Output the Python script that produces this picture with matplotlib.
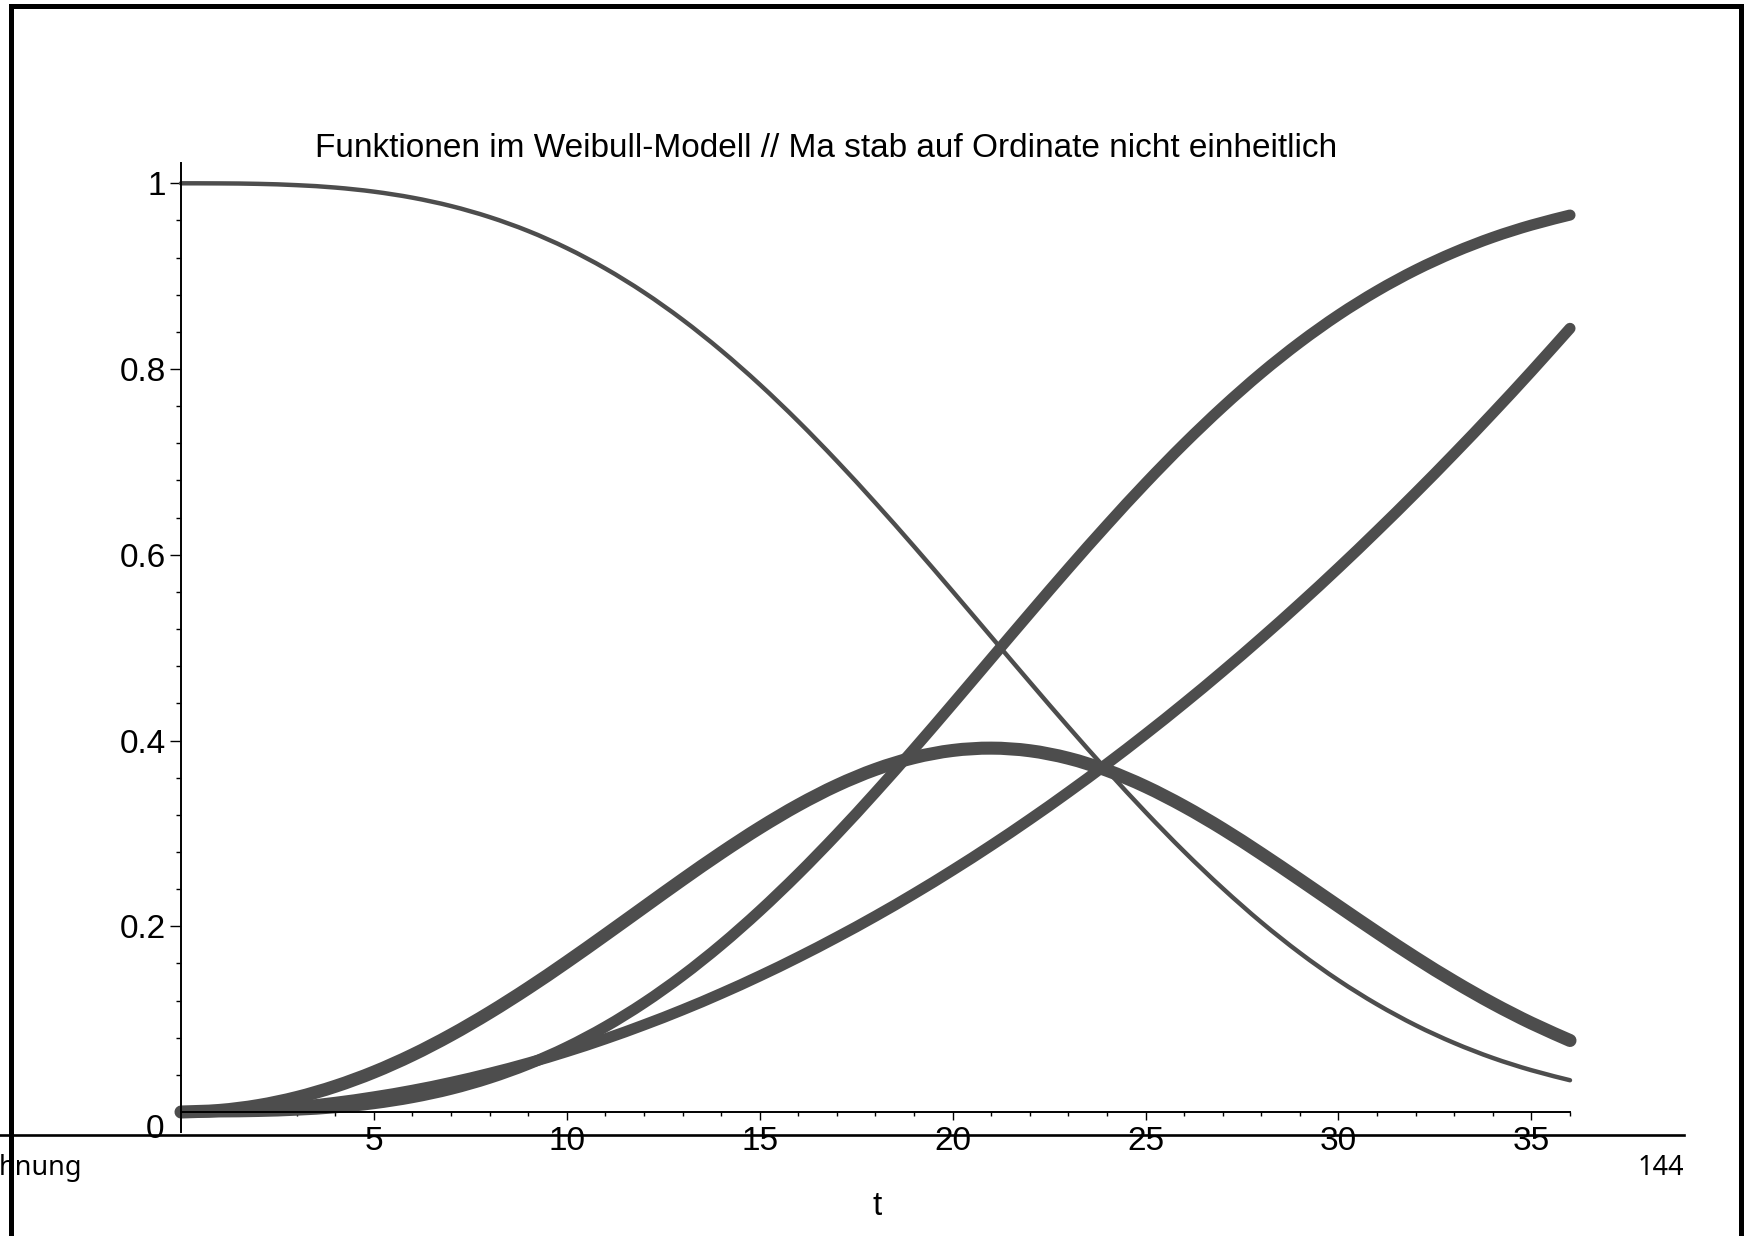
import matplotlib
matplotlib.use("Agg")
import matplotlib.pyplot as plt
from matplotlib.ticker import FixedLocator, MultipleLocator
from matplotlib.lines import Line2D
from matplotlib.path import Path
from matplotlib.patches import PathPatch

plt.rcParams["font.family"] = ["Liberation Sans", "DejaVu Sans"]

# Weibull model curves sampled at integer t (ordinate scaled per curve)
t = list(range(37))
survival = [1.0000, 0.9999, 0.9994, 0.9980, 0.9954, 0.9910, 0.9845, 0.9755, 0.9636, 0.9486,
            0.9302, 0.9082, 0.8825, 0.8531, 0.8200, 0.7834, 0.7436, 0.7009, 0.6558, 0.6089,
            0.5606, 0.5117, 0.4629, 0.4147, 0.3679, 0.3229, 0.2804, 0.2408, 0.2043, 0.1713,
            0.1418, 0.1159, 0.0934, 0.0743, 0.0582, 0.0450, 0.0342]
distribution = [0.0000, 0.0001, 0.0006, 0.0020, 0.0046, 0.0090, 0.0155, 0.0245, 0.0364, 0.0514,
                0.0698, 0.0918, 0.1175, 0.1469, 0.1800, 0.2166, 0.2564, 0.2991, 0.3442, 0.3911,
                0.4394, 0.4883, 0.5371, 0.5853, 0.6321, 0.6771, 0.7196, 0.7592, 0.7957, 0.8287,
                0.8582, 0.8841, 0.9066, 0.9257, 0.9418, 0.9550, 0.9658]
density = [0.0000, 0.0017, 0.0069, 0.0156, 0.0277, 0.0430, 0.0615, 0.0830, 0.1071, 0.1334,
           0.1615, 0.1908, 0.2206, 0.2503, 0.2790, 0.3060, 0.3305, 0.3517, 0.3689, 0.3816,
           0.3893, 0.3918, 0.3890, 0.3809, 0.3679, 0.3504, 0.3291, 0.3048, 0.2781, 0.2501,
           0.2216, 0.1934, 0.1661, 0.1405, 0.1169, 0.0957, 0.0770]
hazard = [0.0000, 0.0007, 0.0026, 0.0059, 0.0104, 0.0163, 0.0234, 0.0319, 0.0417, 0.0527,
          0.0651, 0.0788, 0.0938, 0.1100, 0.1276, 0.1465, 0.1667, 0.1882, 0.2109, 0.2350,
          0.2604, 0.2871, 0.3151, 0.3444, 0.3750, 0.4069, 0.4401, 0.4746, 0.5104, 0.5475,
          0.5859, 0.6257, 0.6667, 0.7090, 0.7526, 0.7975, 0.8438]

x_major = [5, 10, 15, 20, 25, 30, 35]
y_major = [0.2, 0.4, 0.6, 0.8, 1.0]
y_major_labels = ["0.2", "0.4", "0.6", "0.8", "1"]

title = "Funktionen im Weibull-Modell // Ma stab auf Ordinate nicht einheitlich"

W, H = 1749, 1236
fig = plt.figure(figsize=(W / 100, H / 100), dpi=100)


def fx(px):
    return px / W


def fy(py):
    return 1 - py / H


# plot area in pixel coordinates
x0, x1 = 181, 1570
y0, y1 = 1112, 183.3
ax = fig.add_axes([fx(x0), fy(y0), (x1 - x0) / W, (y0 - y1) / H])
ax.set_xlim(0, 36)
ax.set_ylim(0, 1)
for s in ax.spines.values():
    s.set_visible(False)
ax.patch.set_visible(False)

grey = "#4d4d4d"


def smooth_curve(xs, ys, lw, zorder):
    """Draw a curve through the samples as cubic Bezier segments (Catmull-Rom)."""
    n = len(xs)
    pts = list(zip(xs, ys))
    verts = [pts[0]]
    codes = [Path.MOVETO]
    for i in range(n - 1):
        p0 = pts[max(i - 1, 0)]
        p1 = pts[i]
        p2 = pts[i + 1]
        p3 = pts[min(i + 2, n - 1)]
        c1 = (p1[0] + (p2[0] - p0[0]) / 6, p1[1] + (p2[1] - p0[1]) / 6)
        c2 = (p2[0] - (p3[0] - p1[0]) / 6, p2[1] - (p3[1] - p1[1]) / 6)
        verts += [c1, c2, p2]
        codes += [Path.CURVE4] * 3
    patch = PathPatch(Path(verts, codes), facecolor="none", edgecolor=grey, lw=lw,
                      capstyle="round", joinstyle="round", clip_on=False, zorder=zorder)
    ax.add_patch(patch)


smooth_curve(t, survival, 3.2, 2)
smooth_curve(t, distribution, 8.0, 3)
smooth_curve(t, hazard, 8.0, 3)
smooth_curve(t, density, 9.4, 3)

# coordinate axes
ax.plot([0, 36], [0, 0], color="black", lw=1.4, clip_on=False, zorder=5)
ax.plot([0, 0], [-0.0215, 1.0215], color="black", lw=1.4, clip_on=False, zorder=5)

ax.xaxis.set_major_locator(FixedLocator(x_major))
ax.xaxis.set_minor_locator(MultipleLocator(1))
ax.yaxis.set_major_locator(FixedLocator(y_major))
ax.yaxis.set_minor_locator(MultipleLocator(0.04))
ax.set_yticklabels(y_major_labels)

ax.tick_params(axis="x", which="major", direction="out", length=5.8, width=1.0,
               pad=4.5, labelsize=24, colors="black")
ax.tick_params(axis="x", which="minor", direction="out", length=3.2, width=1.0)
ax.tick_params(axis="y", which="major", direction="out", length=7.6, width=1.0,
               pad=3.2, labelsize=24, colors="black")
ax.tick_params(axis="y", which="minor", direction="out", length=3.6, width=1.0)

fig.text(fx(164), fy(1138), "0", ha="right", va="baseline", fontsize=24)

fig.text(fx(826), fy(157), title, ha="center", va="baseline", fontsize=24)
fig.text(fx(877), fy(1215), "t", ha="center", va="baseline", fontsize=24)

# slide footer and frame
fig.add_artist(Line2D([0, fx(1684)], [fy(1135), fy(1135)], transform=fig.transFigure,
                      color="black", lw=1.9))
fig.text(fx(-1), fy(1175), "hnung", family="Noto Sans", ha="left", va="baseline", fontsize=19.5)
fig.text(fx(1684), fy(1175), "144", family="Noto Sans", ha="right", va="baseline", fontsize=19.5)

frame = dict(transform=fig.transFigure, color="black", lw=3.6, solid_capstyle="projecting")
fig.add_artist(Line2D([fx(11.5), fx(1741)], [fy(6), fy(6)], **frame))
fig.add_artist(Line2D([fx(11.5), fx(11.5)], [fy(6), fy(1240)], **frame))
fig.add_artist(Line2D([fx(1741), fx(1741)], [fy(6), fy(1240)], **frame))

fig.savefig("out.png", dpi=100, facecolor="white")
